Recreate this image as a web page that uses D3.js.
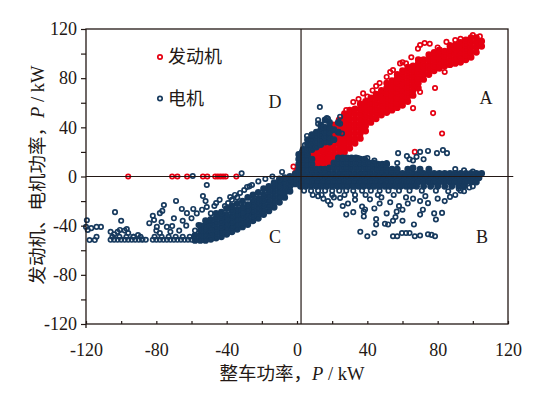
<!DOCTYPE html>
<html>
<head>
<meta charset="utf-8">
<script src="https://cdn.jsdelivr.net/npm/d3@7"></script>
<style>
  body { margin: 0; background: #fff; }
  svg text { fill: #231815; }
</style>
</head>
<body>
<svg id="chart" width="547" height="396"></svg>
<script>
// ---- data (kW) ----
// engine (发动机) points sitting on the zero line, left half
const engineZero = [-96, -71, -68, -62.5, -53.5, -51, -46.5, -45, -43.5, -42, -40.5, -34.5];

// engine dense band: [vehicle power, [engine powers]]
const engineBand = [
  [3, [5, 9, 13]],
  [6, [6, 10, 14, 18]],
  [9, [7, 11, 15, 19, 23]],
  [12, [8, 12, 16, 20, 24, 28]],
  [15, [9, 13, 17, 21, 25, 29, 33]],
  [18, [11, 15, 19, 23, 27, 31, 35, 38]],
  [21, [14, 18, 22, 26, 30, 34, 38, 42]],
  [24, [18, 22, 26, 30, 34, 38, 42, 46]],
  [27, [20, 24, 28, 32, 36, 40, 44, 48, 51]],
  [30, [23, 27, 31, 35, 39, 43, 47, 51, 54]],
  [33, [27, 31, 35, 39, 43, 47, 51, 55]],
  [36, [31, 35, 39, 43, 47, 51, 55, 59]],
  [39, [37, 41, 45, 49, 53, 57, 61]],
  [42, [44, 48, 52, 56, 60, 64]],
  [45, [47, 51, 55, 59, 63, 67]],
  [48, [50, 54, 58, 62, 66, 70]],
  [51, [52, 56, 60, 64, 68, 72, 76]],
  [54, [54, 58, 62, 66, 70, 74, 78]],
  [57, [56, 60, 64, 68, 72, 76, 80, 83]],
  [60, [58, 62, 66, 70, 74, 78, 82, 86]],
  [63, [61, 65, 69, 73, 77, 81, 85, 89]],
  [66, [66, 70, 74, 78, 82, 86, 90]],
  [69, [72, 76, 80, 84, 88, 92, 95]],
  [72, [79, 83, 87, 91, 95]],
  [75, [83, 87, 91, 95, 99]],
  [78, [86, 90, 94, 98, 101]],
  [81, [88, 92, 96, 100, 103]],
  [84, [90, 94, 98, 102]],
  [87, [91, 95, 99, 103, 106]],
  [90, [92, 96, 100, 104, 107]],
  [93, [93, 97, 101, 105, 109]],
  [96, [95, 99, 103, 107, 111]],
  [99, [97, 101, 105, 109, 113]],
  [102, [101, 105, 109, 113]],
  [105, [106, 110]]
];

// engine loose points
const engineScatter = [
  [70, 107], [72.6, 108.6], [75.5, 108], [85, 109.5], [87, 107], [68.8, 104], [58.6, 92],
  [60, 93], [54.6, 86.6], [53, 85], [51, 81], [45, 73.6], [43, 70], [37.6, 67.6], [32, 60.6],
  [28, 54], [20.5, 40.5], [15, 35], [78.5, 72], [70, 68.7], [66, 55.6], [77.4, 51.6],
  [82.5, 35], [67, 20], [84, 85], [90, 111], [100, 115], [104, 114], [-2, 8], [0, 5],
  [9, 4], [-1, 3], [62, 92], [47, 76], [40, 65], [35, 63], [80, 105], [93, 112], [65, 97]
];

// motor (电机) dense band along zero: [motor power, [vehicle powers]]
const motorZeroRows = [
  [2.5, [0, 3, 6, 9, 12, 15, 18, 21, 24, 27, 30, 33, 36, 39, 42, 45, 48, 51, 54, 57, 60, 63, 66, 69, 72, 75, 78, 81, 84, 87, 90, 93, 96, 99, 102, 105]],
  [-1, [1.5, 4.5, 7.5, 10.5, 13.5, 16.5, 19.5, 22.5, 25.5, 28.5, 31.5, 34.5, 37.5, 40.5, 43.5, 46.5, 49.5, 52.5, 55.5, 58.5, 61.5, 64.5, 67.5, 70.5, 73.5, 76.5, 79.5, 82.5, 85.5, 88.5, 91.5, 94.5, 97.5, 100.5, 103.5]],
  [-4.5, [0, 3, 6, 9, 12, 15, 18, 21, 24, 27, 30, 33, 36, 39, 42, 45, 48, 51, 54, 57, 60, 63, 66, 69, 72, 75, 78, 81, 84, 87, 90, 93, 96, 99, 102]],
  [-8, [2, 5, 8, 11, 14, 17, 20, 23, 26, 29, 32, 35, 38, 41, 44, 47, 50, 53, 56, 59, 62, 65, 68, 72, 76, 80, 84, 88, 92, 95]]
];

// motor looser rows below the band and the flat -50 kW floor on the left
const motorLooseRows = [
  [-11.5, [4, 8, 12, 16, 20, 24, 28, 32, 37, 42, 47, 52, 58, 64, 71, 79, 93]],
  [-15, [9, 14, 20, 27, 33, 39, 46, 55]],
  [-51.5, [-106, -104, -102, -100, -98, -96, -94, -92, -90, -88, -86, -82, -80, -78, -76, -74, -72, -70, -68, -66, -64, -62, -60, -58]],
  [-49, [-105, -101, -97, -93, -89, -81, -77, -73, -69, -65, -61]]
];

// motor cluster above zero near the origin: [vehicle power, [motor powers]]
const motorUpper = [
  [1, [6, 10, 14, 18]],
  [3.5, [6, 10, 14, 18, 22]],
  [6, [6, 10, 14, 18, 22, 26, 30]],
  [8.5, [6, 10, 14, 22, 26, 30, 34]],
  [11, [6, 24, 28, 32, 36]],
  [13.5, [6, 26, 30, 34, 38, 42]],
  [16, [6, 28, 32, 36, 40, 46]],
  [18.5, [7, 28, 32, 36, 40, 44]],
  [21, [7, 11, 30, 38]],
  [23.5, [7, 11, 15, 36, 44]],
  [26, [7, 11, 15]],
  [28.5, [7, 11, 15]],
  [31, [7, 11, 15]],
  [33.5, [7, 11, 15]],
  [36, [7, 11, 14]],
  [38.5, [7, 11, 14]],
  [41, [7, 11]],
  [43.5, [7, 11]],
  [46, [6, 10]],
  [48.5, [6, 10]],
  [51, [6, 10]],
  [54, [6]], [57, [6]], [63, [6]], [66, [7]], [70, [6]], [75, [6]]
];

// motor diagonal band in the braking quadrant
const motorDiag = [
  [-1, [-6, -2, 2]],
  [-4, [-12, -8, -4, 0]],
  [-7, [-17, -13, -9, -5, -1]],
  [-10, [-21, -17, -13, -9, -5, -2]],
  [-13, [-25, -21, -17, -13, -9, -5]],
  [-16, [-28, -24, -20, -16, -12, -8]],
  [-19, [-31, -27, -23, -19, -15, -10]],
  [-22, [-34, -30, -26, -22, -18, -13]],
  [-25, [-36, -32, -28, -24, -20, -15]],
  [-28, [-39, -35, -31, -27, -23, -17]],
  [-31, [-41, -37, -33, -29, -25, -20]],
  [-34, [-43, -39, -35, -31, -27, -22]],
  [-37, [-45, -41, -37, -33, -28, -24]],
  [-40, [-47, -43, -39, -35, -31, -26]],
  [-43, [-49, -45, -41, -37, -33, -29]],
  [-46, [-50, -46, -42, -38, -34, -30]],
  [-49, [-51, -47, -43, -39, -35]],
  [-52, [-52, -48, -44, -40, -36]],
  [-55, [-52, -48, -44, -40]],
  [-58, [-52, -48]]
];

// motor loose points
const motorScatter = [
  // above zero
  [5.7, 33], [8.5, 34], [12, 43], [15, 40], [17, 47.5], [24.5, 48.6], [24.5, 43], [25.6, 35],
  [13, 56.5], [12, 46], [17.6, 47], [4.5, 25.6], [2.8, 20], [57.5, 19], [62.5, 16.6], [68, 16],
  [70, 20], [74.5, 20.8], [79.6, 19], [83, 21.5], [85.3, 19], [51, 11], [57, 11], [47, 9.4],
  [34.7, 15], [64, 14], [72, 14], [66, 13], [90, 6], [95, 5], [100, 4], [44, 13], [40, 15],
  [-8.5, 3.7], [-31.5, 2.6], [-59.3, 0.4],
  // B quadrant
  [36, -45], [40, -48.6], [44, -46], [54.6, -48.6], [57, -48.6], [59.7, -46], [62, -46],
  [64, -46], [67, -48.6], [70, -48], [74.5, -47], [76.5, -47.5], [78.5, -48.6], [28, -31],
  [32, -29], [38, -32.5], [45, -34.6], [45, -39], [50, -38.5], [51.8, -39], [54.6, -36],
  [56.7, -28.6], [60, -27], [60, -36], [66.5, -39], [70, -31], [71.6, -27], [74.5, -21.7],
  [78, -30], [79, -35], [82.5, -29.6], [87, -16.6], [38.7, -26.8], [47, -22], [51, -30],
  [41.5, -18.6], [17.6, -20], [19, -23], [24.5, -17.5], [26, -24], [29, -22], [37, -24.5],
  [38, -28.6], [56, -33], [58, -24], [53, -21], [63, -22], [66, -18], [70, -20], [84, -20],
  [90, -15], [95, -12], [100, -8], [33, -19], [21, -17], [12, -16], [15, -18], [44, -26],
  [48, -17], [62, -17], [73, -16], [80, -18], [86, -12], [92, -10], [98, -9],
  // C quadrant
  [-119.5, -35.6], [-119, -43.5], [-118, -51.7], [-115, -51.7], [-114, -49], [-114, -41],
  [-111.5, -41], [-106, -45], [-103.5, -29], [-100, -36], [-100.7, -43.5], [-96.8, -42.7],
  [-96, -46], [-90.4, -47.6], [-82, -32], [-81.3, -35.4], [-79.7, -41], [-78, -29.8],
  [-75.7, -23.2], [-76.6, -28], [-74, -41], [-71, -40.3], [-68.8, -19.9], [-65.5, -26.4],
  [-62.6, -29.8], [-59, -26.4], [-56, -39.5], [-53.5, -15.9], [-51.3, -6.9], [-51.3, -24.8],
  [-46, -21.6], [-42.8, -29.8], [-39.2, -21.6], [-38, -16.7], [-35.3, -15], [-32.4, -13.4],
  [-28.4, -8.5], [-25.6, -6.9], [-104, -47], [-102, -45], [-98, -44], [-93, -49], [-88, -51],
  [-84, -38], [-80, -44], [-78, -46], [-77, -37], [-72, -45], [-70, -34], [-67, -44],
  [-65, -36], [-63, -40], [-60, -34], [-58, -44], [-57, -30], [-54, -27], [-52, -20],
  [-49, -30], [-47, -24], [-44, -19], [-41, -24], [-37, -19], [-34, -17], [-30, -11],
  [-27, -8], [-22, -4], [-18, -2], [-14, 0], [-120, -41], [-117, -42]
];

const ticksMajor = [-120, -80, -40, 0, 40, 80, 120];
const ticksMinor = [-100, -60, -20, 20, 60, 100];
const legendItems = [{ name: '发动机', color: '#e50012' }, { name: '电机', color: '#173a5e' }];
const quadrants = [['A', 107.5, 63.9], ['B', 105.2, -49.2], ['C', -12.5, -49.2], ['D', -12.5, 60.6]];

// unpack [x,[ys]] columns and [y,[xs]] rows into points
const fromCols = cols => cols.flatMap(([x, ys]) => ys.map(y => [x, y]));
const fromRows = rows => rows.flatMap(([y, xs]) => xs.map(x => [x, y]));

const engineDense = fromCols(engineBand);
const engineLoose = [...engineZero.map(x => [x, 0]), ...engineScatter];
const motorDense = [...fromRows(motorZeroRows), ...fromCols(motorUpper), ...fromCols(motorDiag)];
const motorLoose = [...fromRows(motorLooseRows), ...motorScatter];

// ---- layout ----
const svg = d3.select('#chart');
const x = d3.scaleLinear().domain([-120, 120]).range([86, 508]);
const y = d3.scaleLinear().domain([-120, 120]).range([324, 29]);
const ink = '#231815';
const serif = '"Liberation Serif", "Times New Roman", serif';
const cjk = '"Liberation Serif", "Noto Sans CJK SC", serif';

// open circles; where thousands overlap the cloud reads as solid colour
function drawPoints(data, color, dense) {
  svg.append('g')
    .selectAll('circle')
    .data(data)
    .join('circle')
    .attr('cx', d => x(d[0]))
    .attr('cy', d => y(d[1]))
    .attr('r', dense ? 2.6 : 2.2)
    .attr('fill', dense ? color : 'none')
    .attr('stroke', color)
    .attr('stroke-width', 1.7);
}
drawPoints(engineDense, legendItems[0].color, true);
drawPoints(engineLoose, legendItems[0].color, false);
drawPoints(motorDense, legendItems[1].color, true);
drawPoints(motorLoose, legendItems[1].color, false);

// zero lines
svg.append('line')
  .attr('x1', x(-120)).attr('x2', x(123))
  .attr('y1', y(0)).attr('y2', y(0))
  .attr('stroke', ink).attr('stroke-width', 1.2);
svg.append('line')
  .attr('x1', x(2.3)).attr('x2', x(2.3))
  .attr('y1', y(120)).attr('y2', y(-120))
  .attr('stroke', ink).attr('stroke-width', 1.2);

// frame
svg.append('rect')
  .attr('x', x(-120)).attr('y', y(120))
  .attr('width', x(120) - x(-120)).attr('height', y(-120) - y(120))
  .attr('fill', 'none').attr('stroke', ink).attr('stroke-width', 1.3);

const fmt = d => String(d); // plain hyphen minus as in the figure

// y axis: outward ticks
svg.append('g').attr('transform', `translate(${x(-120)},0)`)
  .call(d3.axisLeft(y).tickValues(ticksMajor).tickSize(5).tickPadding(4).tickFormat(fmt));
svg.append('g').attr('transform', `translate(${x(-120)},0)`)
  .call(d3.axisLeft(y).tickValues(ticksMinor).tickSize(5).tickFormat(''));

// x axis: inward ticks
const gx = svg.append('g').attr('transform', `translate(0,${y(-120)})`)
  .call(d3.axisBottom(x).tickValues(ticksMajor).tickSizeInner(-3).tickSizeOuter(0).tickFormat(fmt));
svg.append('g').attr('transform', `translate(0,${y(-120)})`)
  .call(d3.axisBottom(x).tickValues(ticksMinor).tickSizeInner(-3).tickSizeOuter(0).tickFormat(''));

svg.selectAll('.domain').remove();
svg.selectAll('.tick line').attr('stroke', ink).attr('stroke-width', 1.2);
svg.selectAll('.tick text')
  .attr('font-family', serif).attr('font-size', 18).style('fill', ink);
gx.selectAll('.tick text').attr('dy', 0).attr('y', 32);

// left edge runs a little below the bottom axis
svg.append('line')
  .attr('x1', x(-120)).attr('x2', x(-120))
  .attr('y1', y(-120)).attr('y2', y(-120) + 4)
  .attr('stroke', ink).attr('stroke-width', 1.3);

// quadrant letters
svg.append('g').selectAll('text')
  .data(quadrants)
  .join('text')
  .attr('x', d => x(d[1]))
  .attr('y', d => y(d[2]))
  .attr('text-anchor', 'middle')
  .attr('dominant-baseline', 'central')
  .attr('font-family', serif)
  .attr('font-size', 18)
  .text(d => d[0]);

// legend
const legend = svg.append('g');
legendItems.forEach((d, i) => {
  const yy = 57 + i * 41.5;
  legend.append('circle')
    .attr('cx', 160).attr('cy', yy).attr('r', 2.2)
    .attr('fill', 'none').attr('stroke', d.color).attr('stroke-width', 1.7);
  legend.append('text')
    .attr('x', 168).attr('y', yy)
    .attr('dominant-baseline', 'central')
    .attr('font-family', cjk).attr('font-size', 18)
    .text(d.name);
});

// axis titles
function axisTitle(sel, cn) {
  sel.append('tspan').attr('font-family', cjk).text(cn);
  sel.append('tspan').attr('font-family', serif).attr('font-style', 'italic').text('P');
  sel.append('tspan').attr('font-family', serif).text(' / kW');
}
const xt = svg.append('text')
  .attr('x', 292).attr('y', 374)
  .attr('text-anchor', 'middle').attr('dominant-baseline', 'central')
  .attr('font-size', 18.5);
axisTitle(xt, '整车功率，');

const yt = svg.append('text')
  .attr('transform', 'translate(38,175) rotate(-90)')
  .attr('text-anchor', 'middle').attr('dominant-baseline', 'central')
  .attr('font-size', 18.5);
axisTitle(yt, '发动机、电机功率，');
</script>
</body>
</html>
